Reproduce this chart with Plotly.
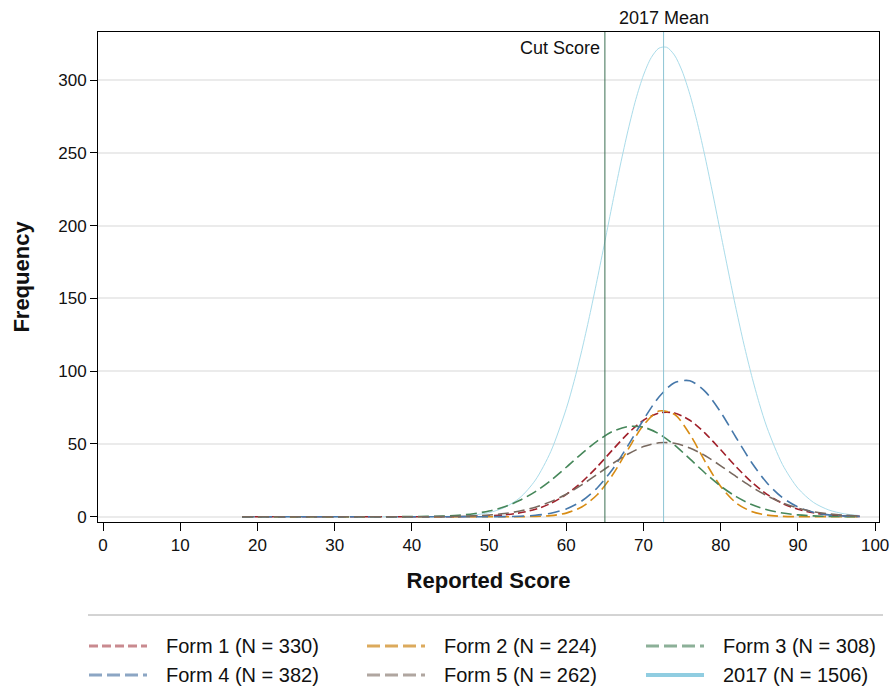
import plotly.graph_objects as go

# ---------------- data ----------------
scores = [18, 20, 22, 24, 26, 28, 30, 32, 34, 36, 38, 40, 42, 44, 46, 48, 50, 52, 54, 56,
          58, 60, 62, 64, 66, 68, 70, 72, 74, 76, 78, 80, 82, 84, 86, 88, 90, 92, 94, 96, 98]

form1 = [0, 0, 0, 0, 0, 0, 0, 0, 0, 0, 0, 0, 0.01, 0.03, 0.09, 0.24, 0.57, 1.3, 2.7, 5.1,
         9.2, 15.4, 23.8, 34.3, 46.0, 57.3, 66.3, 71.3, 71.3, 66.3, 57.3, 46.0, 34.3, 23.8,
         15.4, 9.2, 5.1, 2.7, 1.3, 0.57, 0.24]
form2 = [0, 0, 0, 0, 0, 0, 0, 0, 0, 0, 0, 0, 0, 0, 0, 0, 0, 0.01, 0.05, 0.22,
         0.81, 2.5, 6.7, 15.1, 28.8, 46.3, 63.0, 72.6, 70.4, 56.7, 37.7, 20.8, 9.5, 3.6,
         1.1, 0.29, 0.06, 0.01, 0, 0, 0]
form3 = [0, 0, 0, 0, 0, 0, 0, 0, 0, 0.01, 0.04, 0.10, 0.23, 0.51, 1.07, 2.12, 3.94, 6.86, 11.3, 17.3,
         25.0, 34.0, 43.4, 52.0, 58.6, 62.0, 61.5, 57.0, 49.3, 39.8, 29.9, 21.0, 13.8, 8.4,
         4.8, 2.56, 1.27, 0.59, 0.26, 0.10, 0.04]
form4 = [0, 0, 0, 0, 0, 0, 0, 0, 0, 0, 0, 0, 0, 0, 0, 0.01, 0.04, 0.12, 0.37, 1.0,
         2.4, 5.4, 10.8, 19.8, 32.7, 49.0, 66.7, 82.3, 92.1, 93.4, 86.0, 71.8, 54.3, 37.3,
         23.2, 13.1, 6.7, 3.1, 1.3, 0.5, 0.17]
form5 = [0, 0, 0, 0, 0, 0, 0, 0, 0, 0, 0.01, 0.02, 0.05, 0.12, 0.28, 0.59, 1.17, 2.21, 3.92, 6.58,
         10.4, 15.5, 21.9, 29.1, 36.5, 43.1, 48.2, 50.8, 50.5, 47.3, 41.9, 35.0, 27.6, 20.5,
         14.4, 9.5, 6.0, 3.5, 1.95, 1.03, 0.51]

scores_2017 = [18, 20, 22, 24, 26, 28, 30, 32, 34, 36, 38, 40, 42, 44, 46, 48, 50, 52, 54, 56,
               58, 60, 61, 62, 63, 64, 65, 66, 67, 68, 69, 70, 71, 72, 73, 74, 75, 76, 77, 78,
               79, 80, 81, 82, 83, 84, 85, 86, 88, 90, 92, 94, 96, 98]
all2017 = [0, 0, 0, 0, 0, 0, 0, 0, 0, 0, 0, 0.02, 0.06, 0.17, 0.46, 1.19, 2.85, 6.35, 13.1, 25.2,
           44.9, 74.3, 92.9, 114.1, 137.6, 162.9, 189.2, 215.8, 241.6, 265.5, 286.6, 303.4, 315.4,
           321.9, 322.5, 317.2, 306.2, 290.2, 270.0, 246.6, 221.1, 194.5, 168.1, 142.5, 118.6,
           97.0, 77.8, 61.2, 35.9, 19.6, 9.9, 4.65, 2.03, 0.82]

series_names = ["Form 1 (N = 330)", "Form 2 (N = 224)", "Form 3 (N = 308)",
                "Form 4 (N = 382)", "Form 5 (N = 262)", "2017 (N = 1506)"]
series_x = [scores, scores, scores, scores, scores, scores_2017]
series_values = [form1, form2, form3, form4, form5, all2017]

cut_score = 65
mean_2017 = 72.6
x_ticks = [0, 10, 20, 30, 40, 50, 60, 70, 80, 90, 100]
y_ticks = [0, 50, 100, 150, 200, 250, 300]

# ---------------- styles ----------------
line_colors = ["#a0202a", "#d88c14", "#46875a", "#4678aa", "#78695f", "#aadcea"]
legend_colors = ["#c98a8f", "#dcaa5c", "#8cb098", "#8ca6c4", "#b0a6a0", "#90cde1"]
line_dashes = ["8px,4px", "11px,5px", "11px,5px", "12px,6px", "11px,5px", "solid"]
legend_dashes = ["9px,4px", "13px,5px", "13px,5px", "13px,5px", "13px,5px", "solid"]
line_widths = [1.6, 1.6, 1.6, 1.6, 1.6, 1.0]
FONT = "Liberation Sans, Arial, sans-serif"

fig = go.Figure()
draw_order = [5, 0, 1, 2, 3, 4]
for i in draw_order:
    fig.add_trace(go.Scatter(
        x=series_x[i], y=series_values[i], mode="lines", name=series_names[i],
        line=dict(color=line_colors[i], width=line_widths[i], dash=line_dashes[i],
                  shape="spline", smoothing=0.8),
        showlegend=False, hoverinfo="x+y+name"))

W, H = 890, 687
L, R, T, B = 98, 11, 32, 165
pw, ph = W - L - R, H - T - B


def px_to_paper(px, py):
    return (px - L) / pw, (H - B - py) / ph


shapes = [
    dict(type="line", xref="x", yref="paper", x0=cut_score, x1=cut_score, y0=0, y1=1,
         line=dict(color="#3b6e52", width=1)),
    dict(type="line", xref="x", yref="paper", x0=mean_2017, x1=mean_2017, y0=0, y1=1,
         line=dict(color="#8cc4d4", width=1)),
]
sx0, sy = px_to_paper(88, 615)
sx1, _ = px_to_paper(883, 615)
shapes.append(dict(type="line", xref="paper", yref="paper", x0=sx0, x1=sx1, y0=sy, y1=sy,
                   line=dict(color="#a8a8a8", width=1)))

annotations = [
    dict(x=cut_score, y=1, xref="x", yref="paper", text="Cut Score", showarrow=False,
         xanchor="right", yanchor="top", xshift=-3, yshift=-4,
         font=dict(family=FONT, size=18, color="#111111")),
    dict(x=mean_2017, y=1, xref="x", yref="paper", text="2017 Mean", showarrow=False,
         xanchor="center", yanchor="bottom", yshift=2,
         font=dict(family=FONT, size=18, color="#111111")),
]

# legend (3 columns x 2 rows) drawn below the plot
col_px = [89, 367, 646]
row_py = [646, 675]
for i, name in enumerate(series_names):
    c, r = i % 3, i // 3
    lx0, ly = px_to_paper(col_px[c], row_py[r])
    lx1, _ = px_to_paper(col_px[c] + 58, row_py[r])
    tx, _ = px_to_paper(col_px[c] + 75, row_py[r])
    shapes.append(dict(type="line", xref="paper", yref="paper", x0=lx0, x1=lx1, y0=ly, y1=ly,
                       line=dict(color=legend_colors[i], width=4 if i == 5 else 3,
                                 dash=legend_dashes[i])))
    annotations.append(dict(x=tx, y=ly, xref="paper", yref="paper", text=name, showarrow=False,
                            xanchor="left", yanchor="middle",
                            font=dict(family=FONT, size=20, color="#111111")))

fig.update_layout(
    width=W, height=H,
    margin=dict(l=L, r=R, t=T, b=B, autoexpand=False),
    paper_bgcolor="white", plot_bgcolor="white",
    font=dict(family=FONT, color="#111111"),
    showlegend=False,
    shapes=shapes, annotations=annotations,
    xaxis=dict(range=[-0.65, 100.5], tickvals=x_ticks, ticks="outside", ticklen=8,
               tickwidth=1, tickcolor="black", showline=True, linecolor="black", linewidth=1,
               mirror=True, showgrid=False, zeroline=False, automargin=False,
               tickfont=dict(family=FONT, size=17, color="#111111"),
               title=dict(text="<b>Reported Score</b>", standoff=18,
                          font=dict(family=FONT, size=22, color="#111111"))),
    yaxis=dict(range=[-3.6, 333], tickvals=y_ticks, ticks="outside", ticklen=7,
               tickwidth=1, tickcolor="black", showline=True, linecolor="black", linewidth=1,
               mirror=True, showgrid=True, gridcolor="#ebebeb", gridwidth=1.5, zeroline=False,
               automargin=False,
               tickfont=dict(family=FONT, size=17, color="#111111"),
               title=dict(text="<b>Frequency</b>", standoff=22,
                          font=dict(family=FONT, size=22, color="#111111"))),
)

fig.write_html("out.html",
               config={"displayModeBar": False},
               post_script="document.body.style.margin='0px';document.body.style.overflow='hidden';")
